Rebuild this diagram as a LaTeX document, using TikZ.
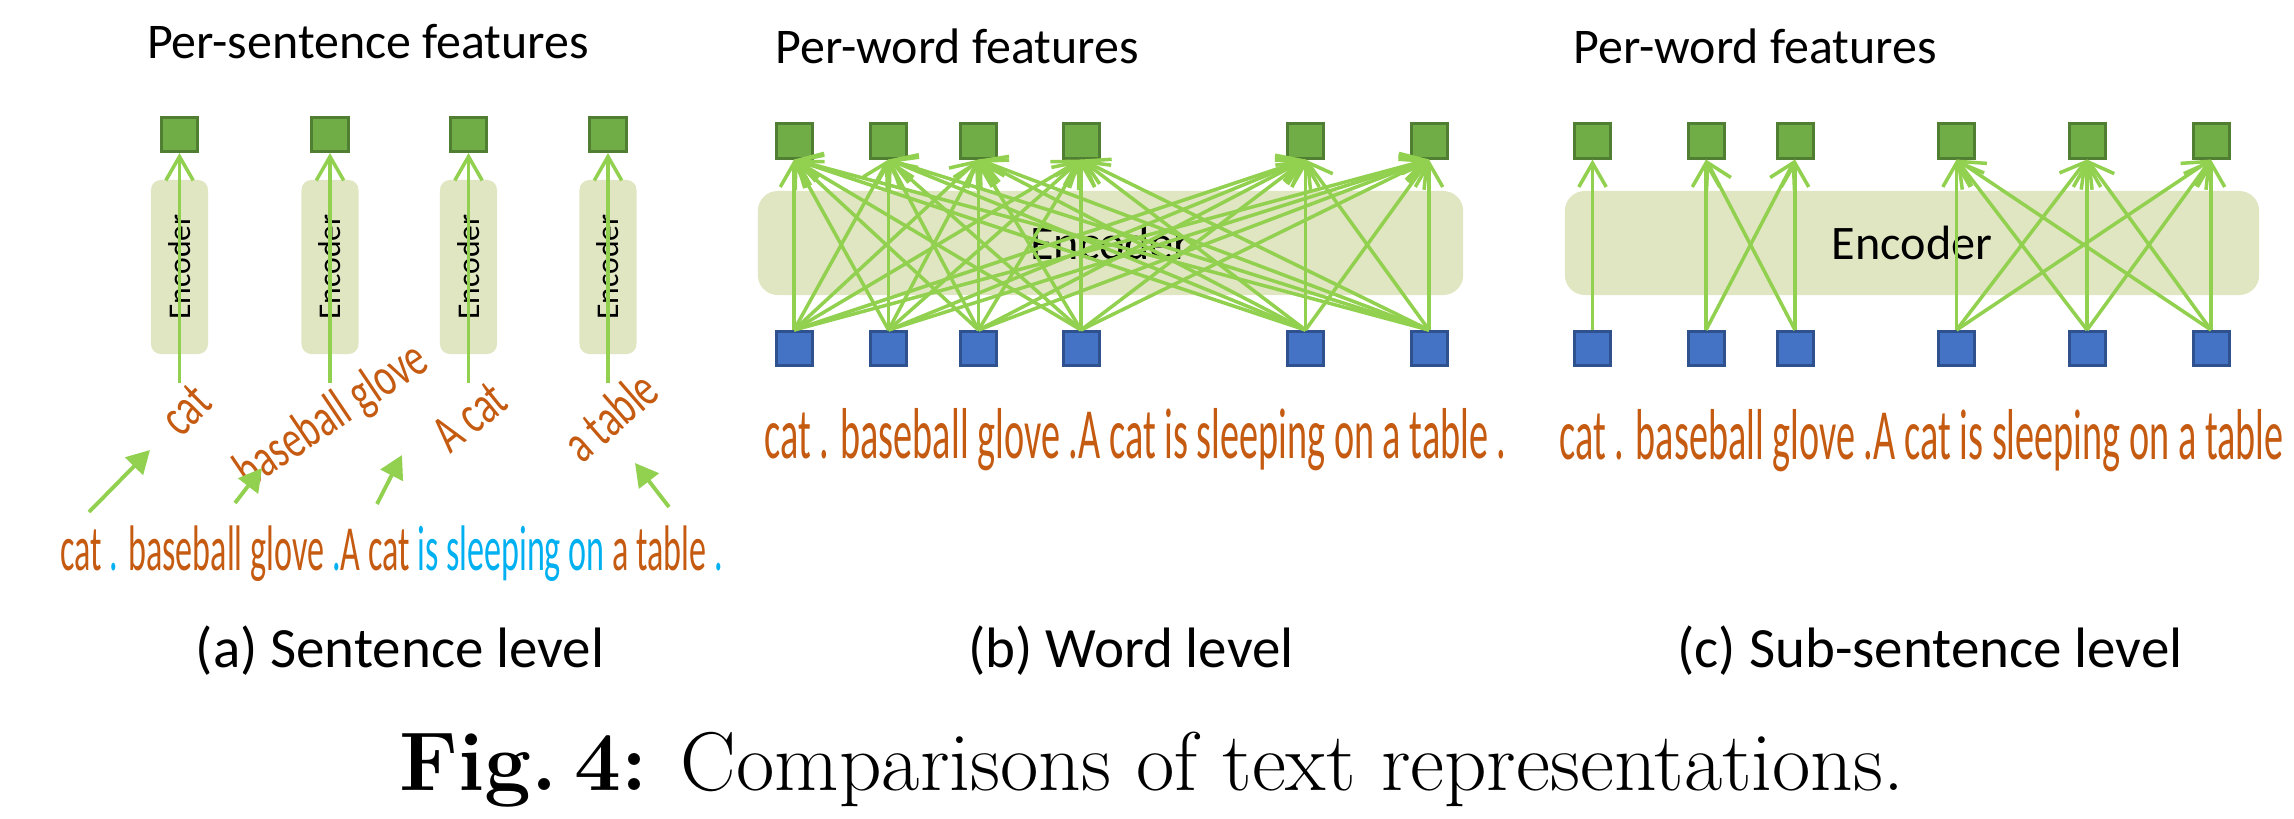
\documentclass[tikz,border=0pt]{standalone}
\usepackage{fontspec}
\usetikzlibrary{arrows.meta}

\newfontfamily\calibri{Carlito}
\newfontfamily\narrowcal[FakeStretch=0.53]{Carlito}
\newfontfamily\semical[FakeStretch=0.7]{Carlito}

\definecolor{featfill}{HTML}{70AD47}
\definecolor{featline}{HTML}{507E32}
\definecolor{tokfill}{HTML}{4472C4}
\definecolor{tokline}{HTML}{2F528F}
\definecolor{attgreen}{HTML}{92D050}
\definecolor{encfill}{RGB}{225,230,194}
\definecolor{txtorange}{HTML}{C55A11}
\definecolor{txtcyan}{HTML}{00B0F0}

\begin{document}
\begin{tikzpicture}[x=0.01cm,y=-0.01cm]
  \useasboundingbox (0,0) rectangle (2294,818);

  % Encoders
  \begin{scope}[every node/.style={fill=encfill,inner sep=0pt}]
    \begin{scope}[every node/.append style={rotate=90,rounded corners=0.1cm,minimum width=1.74cm,minimum height=0.57cm,font=\calibri\fontsize{9}{10}\selectfont}]
      \node (e11) at (179.5,267) {Encoder};
      \node (e12) at (330,267) {Encoder};
      \node (e13) at (468.5,267) {Encoder};
      \node (e14) at (608,267) {Encoder};
    \end{scope}
    \begin{scope}[every node/.append style={rounded corners=0.2cm,minimum height=1.04cm,font=\calibri\fontsize{13.7}{16}\selectfont}]
      \node[minimum width=7.05cm] (e2) at (1110.5,243) {Encoder};
      \node[minimum width=6.94cm] (e3) at (1912,243) {Encoder};
    \end{scope}
  \end{scope}

  % Titles
  \begin{scope}[every node/.style={font=\calibri\fontsize{14.2}{16}\selectfont,inner sep=0pt}]
    \node[anchor=base] (h1) at (368,58) {Per-sentence features};
    \node[anchor=base west] (h2) at (775,64) {Per-word features};
    \node[anchor=base west] (h3) at (1573,64) {Per-word features};
  \end{scope}

  % Features
  \begin{scope}[every node/.style={draw=featline,fill=featfill,line width=0.03cm,minimum width=0.36cm,minimum height=0.34cm,inner sep=0pt}]
    \node (11) at (179.5,134.5) {};
    \node (12) at (330,134.5) {};
    \node (13) at (468.5,134.5) {};
    \node (14) at (608,134.5) {};

    \node (21) at (794,141) {};
    \node (22) at (888.5,141) {};
    \node (23) at (978.5,141) {};
    \node (24) at (1081,141) {};
    \node (25) at (1305.5,141) {};
    \node (26) at (1429,141) {};

    \node (31) at (1592.5,141) {};
    \node (32) at (1706,141) {};
    \node (33) at (1795,141) {};
    \node (34) at (1956.5,141) {};
    \node (35) at (2087,141) {};
    \node (36) at (2211,141) {};
  \end{scope}

  % Tokens
  \begin{scope}[every node/.style={draw=tokline,fill=tokfill,line width=0.03cm,minimum width=0.36cm,minimum height=0.34cm,inner sep=0pt}]
    \node (t21) at (794,348.5) {};
    \node (t22) at (888.5,348.5) {};
    \node (t23) at (978.5,348.5) {};
    \node (t24) at (1081,348.5) {};
    \node (t25) at (1305.5,348.5) {};
    \node (t26) at (1429,348.5) {};

    \node (t31) at (1592.5,348.5) {};
    \node (t32) at (1706,348.5) {};
    \node (t33) at (1795,348.5) {};
    \node (t34) at (1956.5,348.5) {};
    \node (t35) at (2087,348.5) {};
    \node (t36) at (2211,348.5) {};
  \end{scope}

  % Phrases
  \begin{scope}[every node/.style={text=txtorange,font=\semical\fontsize{15.5}{17}\selectfont,inner sep=0pt}]
    \node[rotate=45] (l11) at (186,410) {cat};
    \node[rotate=34] (l12) at (332,417) {baseball glove};
    \node[rotate=39] (l13) at (470,417) {A cat};
    \node[rotate=41] (l14) at (610,416) {a table};
  \end{scope}

  % Sentences
  \begin{scope}[every node/.style={text=txtorange,font=\narrowcal\fontsize{20.5}{23}\selectfont,inner sep=0pt,anchor=base}]
    \node[font=\narrowcal\fontsize{18.3}{21}\selectfont] (s1) at (391.5,570) {cat \textcolor{txtcyan}{.} baseball glove \textcolor{txtcyan}{.}A cat \textcolor{txtcyan}{is sleeping on} a table \textcolor{txtcyan}{.}};
    \node (s2) at (1135.5,458) {cat . baseball glove .A cat is sleeping on a table .};
    \node (s3) at (1921.5,459) {cat . baseball glove .A cat is sleeping on a table};
  \end{scope}

  % Captions
  \begin{scope}[every node/.style={font=\calibri\fontsize{16.2}{18}\selectfont,inner sep=0pt,anchor=base}]
    \node (c1) at (400,667) {(a) Sentence level};
    \node (c2) at (1131,667) {(b) Word level};
    \node (c3) at (1930,667) {(c) Sub-sentence level};
  \end{scope}
  \node[anchor=base,inner sep=0pt,font=\fontsize{23.7}{28}\selectfont] (cap) at (1152,790) {\textbf{Fig.\hspace{0.2em}4:} Comparisons of text representations.};

  % Free ends
  \coordinate (s11) at (179.5,383);
  \coordinate (s12) at (330,383);
  \coordinate (s13) at (468.5,383);
  \coordinate (s14) at (608,383);

  \coordinate (p11) at (89,512);
  \coordinate (q11) at (150,450);
  \coordinate (p12) at (235,503);
  \coordinate (q12) at (262,468);
  \coordinate (p13) at (377,504);
  \coordinate (q13) at (402,455);
  \coordinate (p14) at (669,507);
  \coordinate (q14) at (635,463);

  % Edges
  \begin{scope}[every edge/.style={draw=attgreen,line width=1pt,-{Straight Barb[length=6.8pt,width=7.8pt]}}]
    \path (s11) edge (11.south);
    \path (s12) edge (12.south);
    \path (s13) edge (13.south);
    \path (s14) edge (14.south);

    \path (t21.north) edge (21.south) (t21.north) edge (22.south) (t21.north) edge (23.south) (t21.north) edge (24.south) (t21.north) edge (25.south) (t21.north) edge (26.south);
    \path (t22.north) edge (21.south) (t22.north) edge (22.south) (t22.north) edge (23.south) (t22.north) edge (24.south) (t22.north) edge (25.south) (t22.north) edge (26.south);
    \path (t23.north) edge (21.south) (t23.north) edge (22.south) (t23.north) edge (23.south) (t23.north) edge (24.south) (t23.north) edge (25.south) (t23.north) edge (26.south);
    \path (t24.north) edge (21.south) (t24.north) edge (22.south) (t24.north) edge (23.south) (t24.north) edge (24.south) (t24.north) edge (25.south) (t24.north) edge (26.south);
    \path (t25.north) edge (21.south) (t25.north) edge (22.south) (t25.north) edge (23.south) (t25.north) edge (24.south) (t25.north) edge (25.south) (t25.north) edge (26.south);
    \path (t26.north) edge (21.south) (t26.north) edge (22.south) (t26.north) edge (23.south) (t26.north) edge (24.south) (t26.north) edge (25.south) (t26.north) edge (26.south);

    \path (t31.north) edge (31.south);
    \path (t32.north) edge (32.south);
    \path (t32.north) edge (33.south);
    \path (t33.north) edge (32.south);
    \path (t33.north) edge (33.south);
    \path (t34.north) edge (34.south) (t34.north) edge (35.south) (t34.north) edge (36.south);
    \path (t35.north) edge (34.south) (t35.north) edge (35.south) (t35.north) edge (36.south);
    \path (t36.north) edge (34.south) (t36.north) edge (35.south) (t36.north) edge (36.south);
  \end{scope}

  \begin{scope}[every edge/.style={draw=attgreen,line width=1.1pt,-{Triangle[length=6.5pt,width=7pt]}}]
    \path (p11) edge (q11);
    \path (p12) edge (q12);
    \path (p13) edge (q13);
    \path (p14) edge (q14);
  \end{scope}

\end{tikzpicture}
\end{document}
